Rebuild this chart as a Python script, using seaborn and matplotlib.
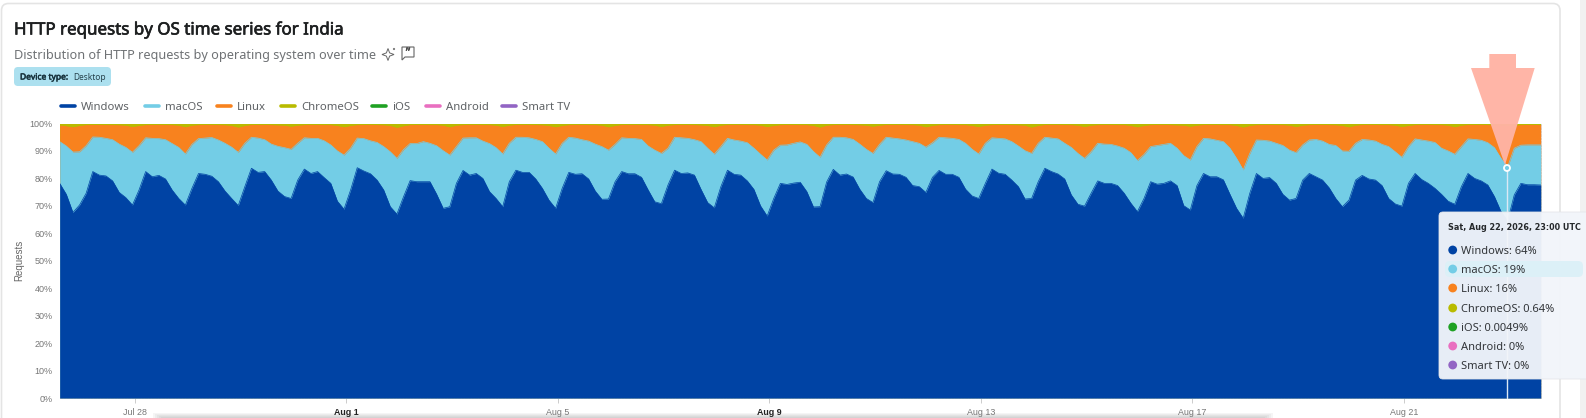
import numpy as np
import pandas as pd
import matplotlib
matplotlib.use("Agg")
import matplotlib.pyplot as plt
import matplotlib.patheffects as pe
from matplotlib.patches import FancyBboxPatch, Polygon, Circle, Rectangle
from matplotlib.lines import Line2D
import seaborn as sns

os_names = ["Windows", "macOS", "Linux", "ChromeOS", "iOS", "Android", "Smart TV"]
os_colors = ["#0043a4", "#73cde6", "#f8821e", "#b9bb00", "#1fa123", "#e96fc0", "#9265c4"]
tooltip_values = ["64%", "19%", "16%", "0.64%", "0.0049%", "0%", "0%"]
tick_dates = ["2026-07-28", "2026-08-01", "2026-08-05", "2026-08-09", "2026-08-13", "2026-08-17", "2026-08-21"]
tick_labels = ["Jul 28", "Aug 1", "Aug 5", "Aug 9", "Aug 13", "Aug 17", "Aug 21"]

# Windows share, one reading every 3 hours
windows = [
    78.2, 74.2, 67.6, 70.3, 74.6, 82.5, 81.2, 80.9, 79.1, 74.9, 73.0, 70.3, 75.8, 82.5, 80.6, 81.1,
    79.8, 75.8, 72.7, 70.3, 76.4, 81.8, 81.5, 80.8, 78.8, 75.4, 72.7, 70.1, 77.0, 83.7, 82.2, 82.5,
    79.4, 75.4, 73.4, 72.7, 79.4, 83.4, 81.8, 82.5, 80.3, 78.2, 71.7, 68.8, 75.8, 83.9, 82.7, 81.7,
    79.4, 75.8, 69.7, 67.0, 73.3, 79.2, 78.8, 78.8, 78.8, 74.3, 69.1, 69.7, 78.2, 82.9, 81.2, 81.8,
    80.0, 75.2, 72.7, 69.7, 78.8, 83.0, 82.2, 82.2, 79.8, 76.4, 72.1, 69.1, 76.4, 82.2, 81.5, 81.7,
    79.8, 75.4, 72.4, 72.5, 78.8, 82.5, 81.7, 81.7, 80.4, 75.8, 71.5, 70.8, 77.6, 83.0, 81.8, 82.0,
    81.2, 76.0, 71.2, 69.3, 77.0, 83.0, 81.5, 81.2, 79.1, 76.0, 70.0, 66.3, 72.7, 78.2, 77.8, 78.3,
    78.6, 75.2, 69.6, 69.7, 78.7, 83.3, 81.2, 81.6, 80.5, 76.1, 72.7, 71.2, 78.8, 82.8, 81.6, 81.5,
    80.4, 77.4, 77.0, 74.9, 80.4, 82.9, 81.5, 81.5, 80.4, 76.1, 73.6, 72.7, 78.2, 83.4, 81.9, 81.5,
    79.4, 77.0, 72.5, 72.7, 78.8, 83.7, 82.5, 81.6, 79.8, 74.0, 70.6, 69.9, 74.6, 79.1, 78.2, 78.2,
    77.4, 74.6, 71.0, 67.9, 72.7, 78.8, 77.9, 78.2, 79.1, 77.4, 70.1, 68.5, 77.4, 81.8, 80.6, 80.6,
    79.5, 74.2, 69.1, 65.5, 74.6, 81.8, 80.0, 80.3, 78.2, 74.2, 72.1, 72.7, 79.4, 81.8, 80.6, 79.4,
    76.6, 72.7, 69.7, 72.1, 79.4, 81.1, 79.8, 79.4, 77.4, 72.7, 70.7, 69.9, 78.2, 81.8, 79.6, 78.2,
    76.4, 74.2, 71.7, 70.6, 77.0, 81.8, 80.0, 79.1, 77.6, 73.4, 67.9, 64.5, 74.0, 78.2, 77.7, 77.7,
    77.6,
]
# Top edge of the macOS band (Windows + macOS)
macos_top = [
    93.4, 91.8, 89.6, 89.7, 91.9, 95.1, 95.0, 94.6, 94.1, 92.5, 91.3, 89.5, 91.9, 94.8, 94.6, 94.5,
    94.1, 92.7, 91.3, 88.9, 92.4, 94.5, 94.7, 94.9, 94.0, 92.8, 91.4, 89.5, 92.8, 95.0, 94.7, 94.1,
    92.5, 91.7, 91.2, 90.6, 92.8, 94.8, 94.6, 94.6, 93.7, 92.2, 90.0, 88.5, 91.0, 94.7, 94.5, 93.7,
    93.1, 91.6, 89.7, 87.3, 90.5, 92.7, 92.7, 93.4, 92.8, 91.9, 90.1, 88.5, 91.6, 94.7, 94.8, 94.8,
    93.6, 92.7, 91.2, 88.9, 92.8, 95.0, 95.0, 94.8, 94.2, 93.4, 91.0, 88.9, 92.8, 95.0, 94.7, 94.1,
    93.6, 92.5, 91.6, 90.3, 92.4, 94.8, 94.6, 94.5, 94.2, 91.8, 90.3, 89.1, 91.0, 95.0, 94.8, 94.6,
    94.1, 93.4, 91.0, 88.8, 91.6, 94.6, 94.0, 93.6, 93.0, 91.0, 88.8, 86.7, 90.3, 92.1, 92.2, 92.8,
    93.3, 92.4, 89.8, 87.7, 92.2, 95.0, 95.0, 94.8, 94.2, 92.5, 90.6, 89.1, 92.4, 95.0, 94.7, 94.4,
    94.0, 93.4, 92.8, 91.4, 93.0, 95.0, 94.8, 94.6, 94.2, 92.8, 90.6, 88.9, 92.8, 94.8, 94.6, 94.4,
    93.4, 91.8, 90.1, 89.1, 92.8, 95.0, 94.7, 94.4, 92.8, 91.3, 89.1, 87.3, 89.7, 92.8, 92.5, 92.4,
    91.8, 91.0, 89.4, 86.5, 88.7, 91.6, 92.0, 92.4, 92.8, 91.0, 88.3, 86.7, 91.6, 94.6, 94.4, 93.9,
    93.4, 91.0, 87.3, 83.1, 89.1, 94.0, 93.9, 93.6, 92.8, 92.0, 90.3, 89.4, 92.2, 94.0, 94.2, 93.6,
    92.4, 92.0, 90.0, 89.9, 92.8, 94.2, 94.0, 93.6, 92.4, 91.6, 89.7, 87.7, 91.6, 94.4, 94.0, 93.6,
    93.1, 91.0, 90.0, 88.8, 91.6, 94.4, 94.2, 93.9, 93.0, 91.2, 87.3, 84.2, 91.0, 92.1, 92.2, 92.2,
    92.2,
]
chromeos = [
    0.5, 0.8, 1.2, 0.7, 0.4, 0.35, 0.35, 0.4, 0.4, 0.45, 0.6,
    1.1, 0.7, 0.4, 0.35, 0.3, 0.4, 0.4, 0.6,
    1.2, 0.6, 0.4, 0.3, 0.35, 0.4, 0.45, 0.7,
    1.3, 0.7, 0.35, 0.35, 0.3, 0.4, 0.5, 0.6,
    1.0, 0.6, 0.4, 0.3, 0.35, 0.4, 0.4, 0.7,
    1.2, 0.7, 0.4, 0.35, 0.3, 0.4, 0.45, 0.7,
    1.4, 0.8, 0.4, 0.35, 0.35, 0.4, 0.4, 0.6,
    1.2, 0.6, 0.4, 0.3, 0.3, 0.4, 0.4, 0.6,
    1.1, 0.6, 0.35, 0.3, 0.35, 0.4, 0.45, 0.7,
    1.2, 0.7, 0.4, 0.3, 0.3, 0.4, 0.4, 0.6,
    1.2, 0.7, 0.35, 0.35, 0.3, 0.4, 0.4, 0.6,
    1.1, 0.6, 0.4, 0.3, 0.35, 0.4, 0.5, 0.7,
    1.2, 0.6, 0.35, 0.3, 0.3, 0.4, 0.4, 0.6,
    1.1, 0.7, 0.4, 0.3, 0.35, 0.4, 0.4, 0.7,
    1.3, 0.6, 0.4, 0.3, 0.3, 0.4, 0.45, 0.6,
    1.0, 0.6, 0.35, 0.35, 0.3, 0.4, 0.4, 0.6,
    1.2, 0.7, 0.4, 0.3, 0.3, 0.4, 0.4, 0.7,
    1.1, 0.6, 0.4, 0.35, 0.35, 0.4, 0.45, 0.6,
    1.3, 0.7, 0.35, 0.3, 0.3, 0.4, 0.4, 0.6,
    1.1, 0.6, 0.4, 0.3, 0.35, 0.4, 0.4, 0.7,
    1.2, 0.7, 0.4, 0.3, 0.3, 0.4, 0.5, 0.6,
    1.0, 0.6, 0.35, 0.3, 0.35, 0.4, 0.4, 0.7,
    1.3, 0.7, 0.4, 0.35, 0.3, 0.4, 0.4, 0.6,
    1.1, 0.6, 0.4, 0.3, 0.3, 0.4, 0.45, 0.7,
    1.2, 0.6, 0.35, 0.3, 0.35, 0.4, 0.4, 0.6,
    1.1, 0.7, 0.4, 0.3, 0.3, 0.4, 0.4, 0.6,
    1.2, 0.6, 0.35, 0.35, 0.3, 0.4, 0.45, 0.6,
    0.64, 0.6, 0.4, 0.35, 0.35, 0.4,
]

W, H = 1586, 418
sns.set_theme(style="white")
plt.rcParams["font.family"] = ["Noto Sans", "DejaVu Sans"]

times = pd.date_range("2026-07-26 14:00", periods=len(windows), freq="3h")
win = np.array(windows)
mac_top = np.array(macos_top)
chrome = np.array(chromeos)
linux_top = 100 - chrome

df = pd.concat([pd.DataFrame({"time": times, "top": win, "os": "Windows"}),
                pd.DataFrame({"time": times, "top": mac_top, "os": "macOS"}),
                pd.DataFrame({"time": times, "top": linux_top, "os": "ChromeOS"})])

fig = plt.figure(figsize=(W / 100, H / 100), dpi=100, facecolor="white")
ax = fig.add_axes([59.7 / W, (H - 398) / H, 1481 / W, 274.5 / H])
# Stacked bands painted top down, so no seam shows between neighbours
ax.fill_between(times, 0, 100, color=os_colors[3], linewidth=0)
ax.fill_between(times, 0, linux_top, color=os_colors[2], linewidth=0)
ax.fill_between(times, 0, mac_top, color=os_colors[1], linewidth=0)
ax.fill_between(times, 0, win, color=os_colors[0], linewidth=0)
sns.lineplot(data=df, x="time", y="top", hue="os", palette=dict(zip(os_names, os_colors)),
             legend=False, linewidth=0.5, ax=ax, estimator=None)
ax.set_xlim(times[0], times[-1])
ax.set_ylim(0, 100)
ax.set_xlabel("")
ax.set_ylabel("Requests", fontsize=7, color="#666666", family=["Liberation Sans"], labelpad=4)
yt = np.arange(0, 101, 10)
ax.set_yticks(yt)
ax.set_yticklabels([f"{v}%" for v in yt], fontsize=6.5, color="#777777", family=["Liberation Sans"])
ax.set_xticks(pd.to_datetime(tick_dates))
ax.set_xticklabels(tick_labels, fontsize=6.4, family=["Liberation Sans"], color="#777777")
for i in (1, 3):
    ax.get_xticklabels()[i].set_color("#222222")
    ax.get_xticklabels()[i].set_fontweight("bold")
ax.tick_params(axis="x", length=3.6, width=0.7, color="#cccccc", pad=3.5, bottom=True)
ax.tick_params(axis="y", length=0, pad=5)
for s in ax.spines.values():
    s.set_edgecolor("#d8d8d8")
    s.set_linewidth(0.7)
    s.set_linestyle((0, (2, 1.5)))
    s.set_zorder(0.5)

# Page furniture and annotations, placed in figure pixels
ov = fig.add_axes([0, 0, 1, 1], facecolor="none", zorder=5)
ov.set_xlim(0, W)
ov.set_ylim(H, 0)
ov.axis("off")
under = fig.add_axes([0, 0, 1, 1], zorder=-1)
under.set_xlim(0, W)
under.set_ylim(H, 0)
under.axis("off")
under.add_patch(Rectangle((1580, 0), 6, H, fc="#f1f1f1", ec="none"))
under.add_patch(FancyBboxPatch((1.5, 3.5), 1558.5, 430, boxstyle="round,pad=0,rounding_size=7",
                               fc="white", ec="#e4e4e4", lw=1.2))
for i in range(5):
    under.add_patch(Rectangle((153 + i * 2, 413 + i), 1120 - i * 4, 6, fc="#777777", alpha=0.07, ec="none"))

bold = [pe.withStroke(linewidth=0.45, foreground="#1d1f20")]
ov.text(14, 30.5, "HTTP requests by OS time series for India", fontsize=12.2,
        color="#1d1f20", va="center", ha="left", path_effects=bold)
ov.text(14, 55, "Distribution of HTTP requests by operating system over time", fontsize=9.15,
        color="#6f7275", va="center", ha="left")
# sparkle and comment icons
sx, sy = 388, 54.5
ov.add_patch(Polygon([(sx, sy - 6), (sx + 1.6, sy - 1.6), (sx + 6, sy), (sx + 1.6, sy + 1.6),
                      (sx, sy + 6), (sx - 1.6, sy + 1.6), (sx - 6, sy), (sx - 1.6, sy - 1.6)],
                     closed=True, fc="white", ec="#666666", lw=0.7))
ov.add_patch(Circle((394, 49), 1.1, fc="#777777", ec="none"))
ov.add_patch(Polygon([(402, 47), (414, 47), (414, 57), (405, 57), (402, 60)], closed=True,
                     fc="white", ec="#666666", lw=0.8))
ov.text(408, 53, "”", fontsize=9, color="#444444", ha="center", va="center", path_effects=[pe.withStroke(linewidth=0.3, foreground="#444444")])

ov.add_patch(FancyBboxPatch((14, 67), 97, 19, boxstyle="round,pad=0,rounding_size=4",
                            fc="#ace0ef", ec="none"))
ov.text(20, 77, "Device type:", fontsize=6.1, color="#17323c", va="center",
        path_effects=[pe.withStroke(linewidth=0.35, foreground="#17323c")])
ov.text(73.5, 77, "Desktop", fontsize=6.0, color="#27424c", va="center")

legend_handle_x = [59, 143, 215, 279, 370.5, 424, 500.5]
for name, color, hx in zip(os_names, os_colors, legend_handle_x):
    ov.add_line(Line2D([hx + 1.5, hx + 15.5], [106, 106], color=color, lw=2.6, solid_capstyle="round"))
    ov.text(hx + 22, 107.5, name, fontsize=8.15, color="#5f6265", va="center", ha="left")

# Hover guide, arrow and tooltip
guide_x, ring_y = 1507, 168
ov.add_line(Line2D([guide_x, guide_x], [ring_y, 398], color="#dbe8f5", lw=1))
ov.add_patch(Polygon([(1489.3, 54), (1516, 54), (1516, 68), (1534.7, 68), (1505, 165),
                      (1471, 68), (1489.3, 68)], closed=True, fc="#ffb3a4", ec="none", alpha=0.97))
ov.add_patch(Circle((guide_x, ring_y), 3, fc="#73cde6", ec="white", lw=1.3, zorder=6))
ov.add_patch(FancyBboxPatch((1439, 212), 160, 167, boxstyle="round,pad=0,rounding_size=4",
                            fc="#f2f5fa", ec="#e4e6ea", lw=0.6, alpha=0.96, zorder=7))
ov.text(1448, 227, "Sat, Aug 22, 2026, 23:00 UTC", fontsize=5.8, fontweight="bold", color="#25282b",
        va="center", ha="left", family=["DejaVu Sans"], zorder=8)
ov.add_patch(FancyBboxPatch((1445, 261), 138, 16, boxstyle="round,pad=0,rounding_size=5",
                            fc="#dcf0f7", ec="none", zorder=7.5))
tooltip_y = [250, 269, 288, 308, 327, 346, 365]
for name, color, val, ty in zip(os_names, os_colors, tooltip_values, tooltip_y):
    ov.add_patch(Circle((1452.7, ty), 4.4, fc=color, ec="none", zorder=8))
    ov.text(1460.7, ty + 1.5, f"{name}: {val}", fontsize=8.0, color="#33363a", va="center", ha="left", zorder=8)

fig.savefig("out.png", dpi=100, facecolor="white")
